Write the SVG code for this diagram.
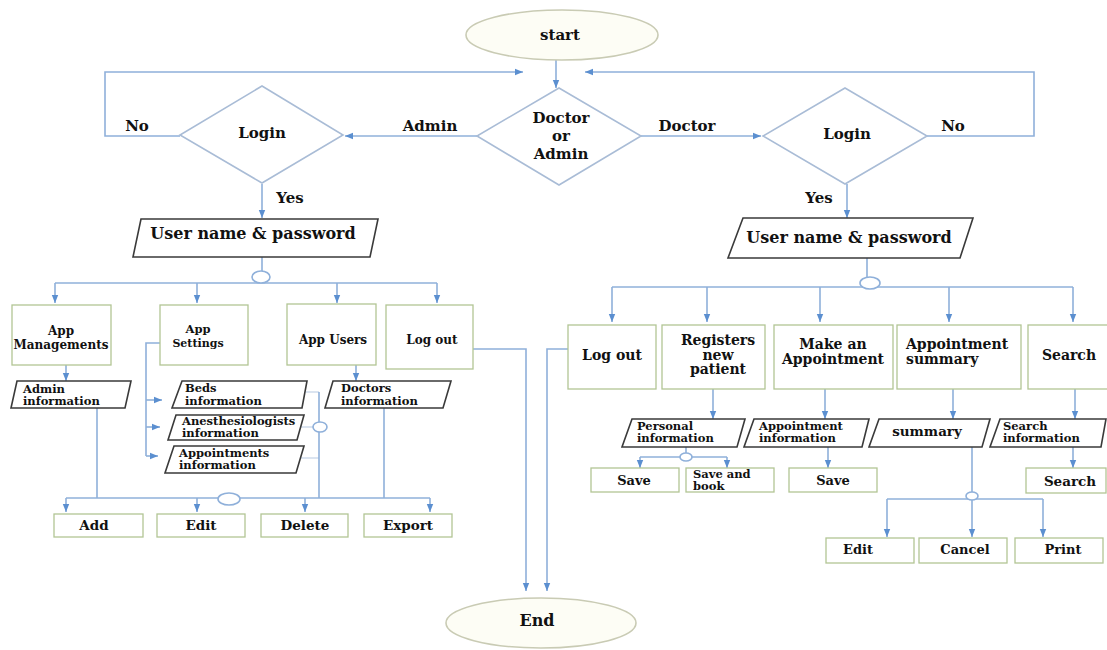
<svg xmlns="http://www.w3.org/2000/svg" width="1107" height="650" viewBox="0 0 1107 650">
<defs>
<marker id="ah" viewBox="0 0 10 10" refX="10" refY="5" markerWidth="8" markerHeight="8" markerUnits="userSpaceOnUse" orient="auto"><path d="M0,1 L10,5 L0,9 z" fill="#5b8fd0"/></marker>
<style>
.t{font-family:"DejaVu Serif","Liberation Serif",serif;font-weight:bold;fill:#111;}
.c{text-anchor:middle;}
.ln{fill:none;stroke:#8fb0da;stroke-width:1.6;}
.ar{fill:none;stroke:#8fb0da;stroke-width:1.6;marker-end:url(#ah);}
.fa{fill:none;stroke:#c4d3e6;stroke-width:1.2;}
.dia{fill:#fff;stroke:#a9bcd6;stroke-width:1.6;}
.ell{fill:#fdfdf5;stroke:#c9cbb4;stroke-width:1.6;}
.box{fill:#fff;stroke:#b2c594;stroke-width:1.3;}
.par{fill:#fff;stroke:#3a3a3a;stroke-width:1.6;}
.jn{fill:#fff;stroke:#8fb0da;stroke-width:1.6;}
</style>
</defs>
<rect width="1107" height="650" fill="#fff"/>

<g id="connectors">
<path class="ar" d="M556,60 V88"/>
<path class="ar" d="M180,136 H105 V72 H523"/>
<path class="ar" d="M927,136 H1034 V72 H585"/>
<path class="ar" d="M477,136 H345"/>
<path class="ar" d="M641,136 H761"/>
<path class="ar" d="M262,184 V218"/>
<path class="ar" d="M847,184 V218"/>
<path class="ln" d="M262,257 V271"/>
<path class="ln" d="M55,283 H437"/>
<path class="ar" d="M55,283 V303"/>
<path class="ar" d="M197,283 V303"/>
<path class="ar" d="M337,283 V303"/>
<path class="ar" d="M437,283 V303"/>
<path class="ar" d="M66,365 V381"/>
<path class="ar" d="M356,365 V381"/>
<path class="ln" d="M160,343 H146 V456"/>
<path class="ar" d="M146,400 H162"/>
<path class="ar" d="M146,427 H160"/>
<path class="ar" d="M146,456 H158"/>
<path class="fa" d="M306,392 H319"/>
<path class="fa" d="M301,427 H313"/>
<path class="fa" d="M297,458 H319"/>
<path class="ln" d="M319,392 V498"/>
<path class="ln" d="M97,408 V498"/>
<path class="ln" d="M384,408 V498"/>
<path class="ln" d="M66,498 H430"/>
<path class="ar" d="M66,498 V512"/>
<path class="ar" d="M197,498 V512"/>
<path class="ar" d="M305,498 V512"/>
<path class="ar" d="M430,498 V512"/>
<path class="ar" d="M473,349 H526 V591"/>
<path class="ar" d="M568,349 H547 V591"/>
<path class="ln" d="M867,258 V278"/>
<path class="ln" d="M612,287 H1073"/>
<path class="ar" d="M612,287 V322"/>
<path class="ar" d="M707,287 V322"/>
<path class="ar" d="M820,287 V322"/>
<path class="ar" d="M949,287 V322"/>
<path class="ar" d="M1073,287 V322"/>
<path class="ar" d="M713,389 V419"/>
<path class="ar" d="M825,389 V419"/>
<path class="ar" d="M953,389 V419"/>
<path class="ar" d="M1075,389 V419"/>
<path class="ln" d="M686,447 V453"/>
<path class="ln" d="M640,457 H727"/>
<path class="ar" d="M640,457 V468"/>
<path class="ar" d="M727,457 V468"/>
<path class="ar" d="M828,447 V468"/>
<path class="ar" d="M1073,447 V468"/>
<path class="ln" d="M972,447 V492"/>
<path class="ln" d="M887,499 H1043"/>
<path class="ar" d="M887,499 V537"/>
<path class="ar" d="M972,499 V537"/>
<path class="ar" d="M1043,499 V537"/>
<ellipse class="jn" cx="261" cy="277" rx="9" ry="6"/>
<ellipse class="jn" cx="870" cy="283" rx="10" ry="6"/>
<ellipse class="jn" cx="229" cy="499" rx="11" ry="6"/>
<ellipse class="jn" cx="320" cy="427" rx="7" ry="5"/>
<ellipse class="jn" cx="686" cy="457" rx="6" ry="4"/>
<ellipse class="jn" cx="972" cy="496" rx="6" ry="4"/>
</g>

<g class="t" font-size="15">
<text x="137" y="131" class="c">No</text>
<text x="430" y="131" class="c">Admin</text>
<text x="687" y="131" class="c">Doctor</text>
<text x="953" y="131" class="c">No</text>
<text x="290" y="203" class="c">Yes</text>
<text x="819" y="203" class="c">Yes</text>
</g>

<g id="start"><ellipse class="ell" cx="562" cy="35" rx="96" ry="25"/><text class="t c" x="560" y="40" font-size="15">start</text></g>
<g id="end"><ellipse class="ell" cx="541" cy="623" rx="95" ry="25"/><text class="t c" x="537" y="626" font-size="16">End</text></g>

<g id="doctor-or-admin"><polygon class="dia" points="559,88 641,136 559,185 477,136"/>
<text class="t c" font-size="15" x="561" y="123">Doctor</text><text class="t c" font-size="15" x="561" y="141">or</text><text class="t c" font-size="15" x="561" y="159">Admin</text></g>
<g id="login-admin"><polygon class="dia" points="262,86 343,135 262,183 180,135"/><text class="t c" font-size="15" x="262" y="138">Login</text></g>
<g id="login-doctor"><polygon class="dia" points="845,88 927,136 845,184 763,136"/><text class="t c" font-size="15" x="847" y="139">Login</text></g>

<g id="admin-userpass"><polygon class="par" points="141,219 378,219 370,257 133,257"/><text class="t c" font-size="16" x="253" y="239">User name &amp; password</text></g>
<g id="doctor-userpass"><polygon class="par" points="743,218 973,218 960,258 728,258"/><text class="t c" font-size="16" x="849" y="243">User name &amp; password</text></g>

<g id="app-managements"><rect class="box" x="12" y="305" width="99" height="60"/><text class="t c" font-size="12" x="61" y="335">App</text><text class="t c" font-size="12" x="61" y="349">Managements</text></g>
<g id="app-settings"><rect class="box" x="160" y="305" width="88" height="60"/><text class="t c" font-size="11.5" x="198" y="333">App</text><text class="t c" font-size="11" x="198" y="347">Settings</text></g>
<g id="app-users"><rect class="box" x="287" y="304" width="89" height="61"/><text class="t c" font-size="12" x="333" y="344">App Users</text></g>
<g id="admin-logout"><rect class="box" x="386" y="305" width="87" height="64"/><text class="t c" font-size="12" x="432" y="344">Log out</text></g>

<g id="admin-information"><polygon class="par" points="17,381 131,381 125,408 11,408"/><text class="t" font-size="11.5" x="23" y="393">Admin</text><text class="t" font-size="11.5" x="23" y="405">information</text></g>
<g id="beds-information"><polygon class="par" points="182,381 307,381 302,408 172,408"/><text class="t" font-size="11.5" x="185" y="392">Beds</text><text class="t" font-size="11.5" x="185" y="405">information</text></g>
<g id="anesthesiologists-information"><polygon class="par" points="176,415 304,415 297,440 168,440"/><text class="t" font-size="11.5" x="182" y="425">Anesthesiologists</text><text class="t" font-size="11.5" x="182" y="437">information</text></g>
<g id="appointments-information"><polygon class="par" points="174,446 304,446 296,473 165,473"/><text class="t" font-size="11.5" x="179" y="457">Appointments</text><text class="t" font-size="11.5" x="179" y="469">information</text></g>
<g id="doctors-information"><polygon class="par" points="333,381 451,381 443,408 325,408"/><text class="t" font-size="11.5" x="341" y="392">Doctors</text><text class="t" font-size="11.5" x="341" y="405">information</text></g>

<g id="add"><rect class="box" x="54" y="514" width="89" height="23"/><text class="t c" font-size="13.5" x="94" y="530">Add</text></g>
<g id="edit-admin"><rect class="box" x="157" y="514" width="88" height="23"/><text class="t c" font-size="13.5" x="201" y="530">Edit</text></g>
<g id="delete"><rect class="box" x="261" y="514" width="87" height="23"/><text class="t c" font-size="13.5" x="305" y="530">Delete</text></g>
<g id="export"><rect class="box" x="364" y="514" width="88" height="23"/><text class="t c" font-size="13.5" x="408" y="530">Export</text></g>

<g id="doctor-logout"><rect class="box" x="568" y="325" width="88" height="64"/><text class="t c" font-size="14" x="612" y="360">Log out</text></g>
<g id="registers-new-patient"><rect class="box" x="662" y="325" width="103" height="64"/><text class="t c" font-size="14" x="718" y="345">Registers</text><text class="t c" font-size="14" x="718" y="360">new</text><text class="t c" font-size="14" x="718" y="374">patient</text></g>
<g id="make-appointment"><rect class="box" x="774" y="325" width="119" height="64"/><text class="t c" font-size="14" x="833" y="349">Make an</text><text class="t c" font-size="14" x="833" y="364">Appointment</text></g>
<g id="appointment-summary"><rect class="box" x="897" y="325" width="124" height="64"/><text class="t" font-size="14" x="906" y="349">Appointment</text><text class="t" font-size="14" x="906" y="364">summary</text></g>
<g id="search-menu"><rect class="box" x="1028" y="325" width="80" height="64"/><text class="t c" font-size="14" x="1069" y="360">Search</text></g>

<g id="personal-information"><polygon class="par" points="632,419 745,419 737,447 622,447"/><text class="t" font-size="11.5" x="637" y="430">Personal</text><text class="t" font-size="11.5" x="637" y="442">information</text></g>
<g id="appointment-information"><polygon class="par" points="754,419 869,419 862,447 744,447"/><text class="t" font-size="11.5" x="759" y="430">Appointment</text><text class="t" font-size="11.5" x="759" y="442">information</text></g>
<g id="summary"><polygon class="par" points="879,419 990,419 982,447 869,447"/><text class="t c" font-size="13.5" x="927" y="436">summary</text></g>
<g id="search-information"><polygon class="par" points="1000,419 1106,419 1101,447 990,447"/><text class="t" font-size="11.5" x="1003" y="430">Search</text><text class="t" font-size="11.5" x="1003" y="442">information</text></g>

<g id="save-personal"><rect class="box" x="591" y="468" width="88" height="24"/><text class="t c" font-size="13" x="634" y="485">Save</text></g>
<g id="save-and-book"><rect class="box" x="686" y="468" width="88" height="24"/><text class="t" font-size="11.5" x="693" y="478">Save and</text><text class="t" font-size="11.5" x="693" y="490">book</text></g>
<g id="save-appointment"><rect class="box" x="789" y="468" width="88" height="24"/><text class="t c" font-size="13" x="833" y="485">Save</text></g>
<g id="search-action"><rect class="box" x="1026" y="468" width="80" height="25"/><text class="t c" font-size="13.5" x="1070" y="486">Search</text></g>

<g id="edit-summary"><rect class="box" x="826" y="538" width="88" height="25"/><text class="t c" font-size="13" x="858" y="554">Edit</text></g>
<g id="cancel"><rect class="box" x="919" y="538" width="88" height="25"/><text class="t c" font-size="13" x="965" y="554">Cancel</text></g>
<g id="print"><rect class="box" x="1015" y="538" width="88" height="25"/><text class="t c" font-size="13" x="1063" y="554">Print</text></g>
</svg>
